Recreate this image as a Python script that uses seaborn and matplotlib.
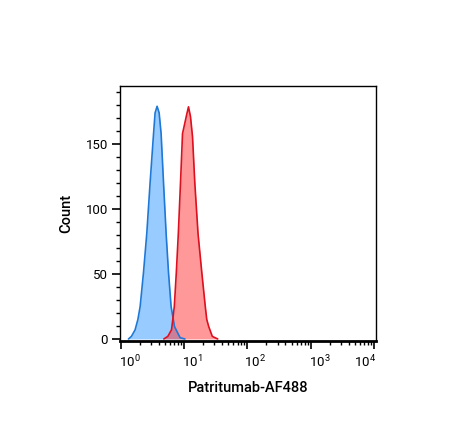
import matplotlib
matplotlib.use("Agg")
import matplotlib.transforms as mtransforms
import numpy as np
import pandas as pd
import seaborn as sns
from matplotlib import pyplot as plt
from matplotlib.ticker import FixedLocator, LogLocator, NullFormatter

# isotype control (blue) - intensity vs count
ctrl_x = [1.32, 1.47, 1.68, 1.86, 2.02, 2.28, 2.57, 2.90, 3.29, 3.48, 3.74,
          4.03, 4.33, 4.73, 5.20, 5.67, 6.23, 7.05, 8.65, 10.3]
ctrl_y = [0, 2, 7, 15, 25, 51, 81, 120, 158, 174, 179,
          174, 158, 120, 81, 51, 25, 9.5, 1, 0]

# Patritumab-AF488 stained (red)
stain_x = [4.78, 5.53, 6.32, 6.63, 7.00, 7.53, 8.10, 8.77, 9.44, 10.26, 10.91,
           11.73, 12.62, 13.58, 14.76, 16.6, 19.05, 21.6, 22.8, 24.5, 27.9, 34.0]
stain_y = [0, 2, 7, 15, 25, 51, 81, 120, 158, 166, 172,
           178.6, 171, 155.6, 120, 81, 51, 25, 15, 9.5, 2, 0]

xlabel = "Patritumab-AF488"
ylabel = "Count"

sns.set_theme(style="ticks")
plt.rcParams["font.family"] = ["Roboto", "DejaVu Sans"]
plt.rcParams["mathtext.fontset"] = "custom"
plt.rcParams["mathtext.rm"] = "Roboto"
plt.rcParams["mathtext.it"] = "Roboto:italic"
plt.rcParams["mathtext.bf"] = "Roboto:bold"
plt.rcParams["text.color"] = "black"
plt.rcParams["axes.labelcolor"] = "black"

fig = plt.figure(figsize=(4.49, 4.48), dpi=100)
ax = fig.add_axes([0.268, 0.239, 0.569, 0.569])

ctrl = pd.DataFrame({"x": ctrl_x, "y": ctrl_y})
stain = pd.DataFrame({"x": stain_x, "y": stain_y})

ax.fill_between(ctrl["x"], ctrl["y"], color="#3399ff", alpha=0.5, lw=0)
sns.lineplot(data=ctrl, x="x", y="y", ax=ax, color="#1f78d6", lw=1.2)
ax.fill_between(stain["x"], stain["y"], color="#ff3535", alpha=0.5, lw=0)
sns.lineplot(data=stain, x="x", y="y", ax=ax, color="#dd1020", lw=1.2)

ax.set_xscale("log")
ax.set_xlim(0.982, 10700)
ax.set_ylim(-1.5, 194.6)

ax.xaxis.set_major_locator(FixedLocator([1, 10, 100, 1000, 10000]))
ax.xaxis.set_minor_locator(LogLocator(base=10, subs=np.arange(2, 10), numticks=20))
ax.xaxis.set_minor_formatter(NullFormatter())
ax.set_xticklabels([r"$10^{0}$", r"$10^{1}$", r"$10^{2}$", r"$10^{3}$", r"$10^{4}$"])
ax.set_yticks([0, 50, 100, 150])
ax.yaxis.set_minor_locator(FixedLocator(np.arange(10, 195, 10)))

ax.tick_params(axis="both", which="major", length=6, width=1.2, labelsize=9.5,
               colors="black", pad=3)
ax.tick_params(axis="both", which="minor", length=3, width=1, colors="black")

shifts = [9, 8, 8, 9, -9]
for lab, dx in zip(ax.get_xticklabels(), shifts):
    lab.set_transform(lab.get_transform() +
                      mtransforms.ScaledTranslation(dx / 100, 0, fig.dpi_scale_trans))

for side in ["left", "right", "top"]:
    ax.spines[side].set_visible(True)
    ax.spines[side].set_color("black")
    ax.spines[side].set_linewidth(1)
ax.spines["bottom"].set_color("black")
ax.spines["bottom"].set_linewidth(2)

ax.set_xlabel(xlabel, fontsize=10.5, fontweight="medium", labelpad=8, color="black")
ax.set_ylabel(ylabel, fontsize=10.5, fontweight="medium", labelpad=9, color="black")

fig.savefig("out.png", dpi=100)
